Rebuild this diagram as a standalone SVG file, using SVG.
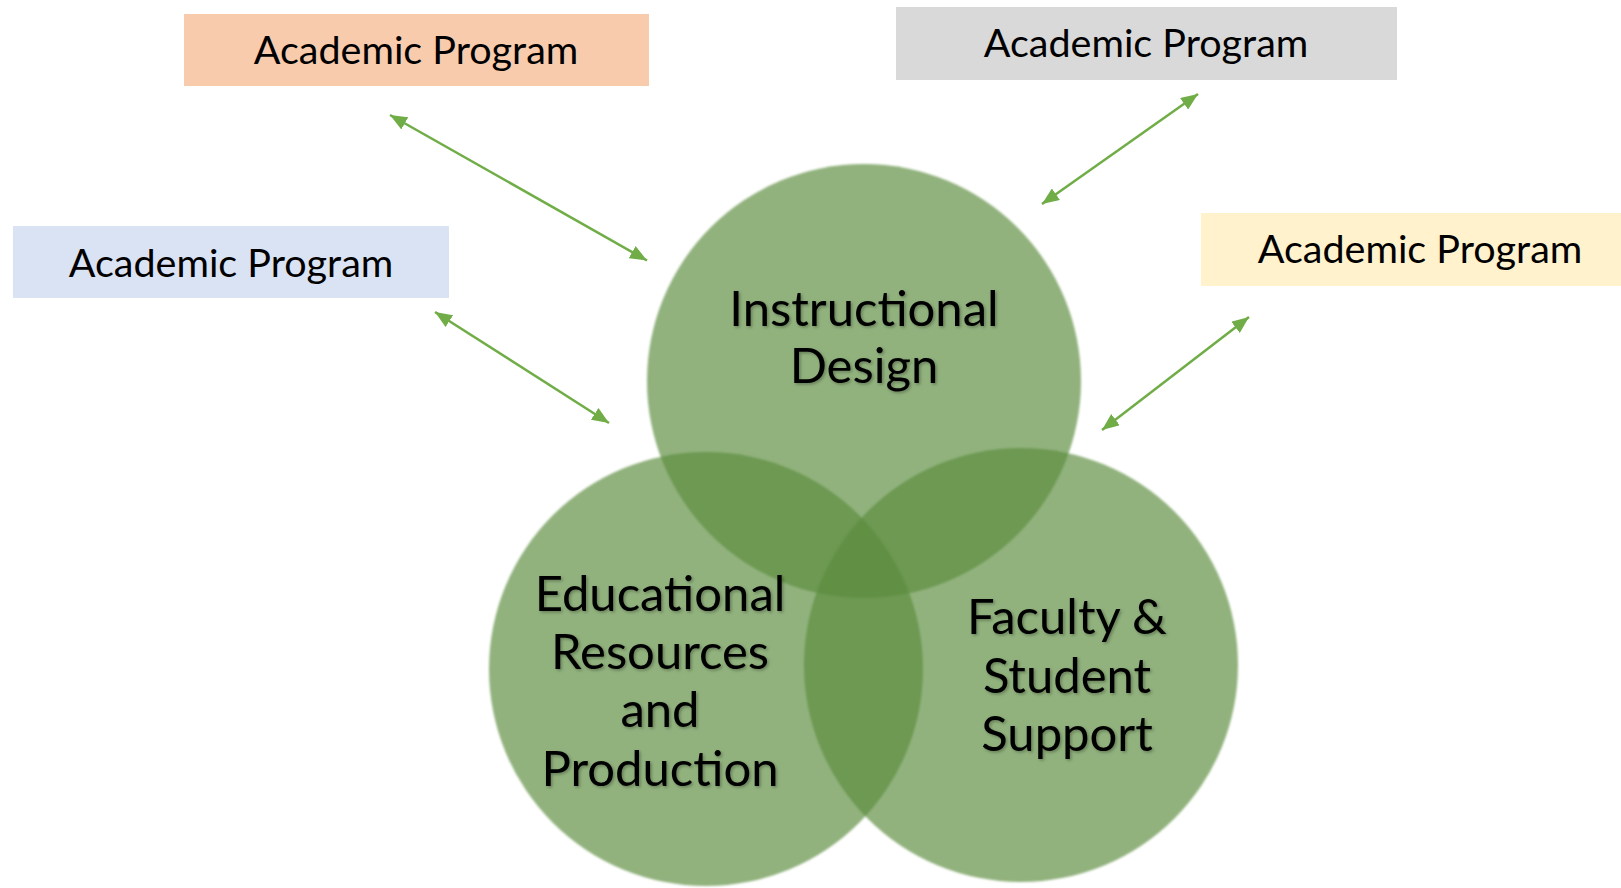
<svg xmlns="http://www.w3.org/2000/svg" width="1621" height="888" viewBox="0 0 1621 888">
  <style>
    .box-text { font-family: Lato, "Open Sans", "Liberation Sans", sans-serif; font-size: 39.5px; fill: #000; text-anchor: middle; }
    .venn-text { font-family: Lato, "Open Sans", "Liberation Sans", sans-serif; font-size: 49px; fill: #000; text-anchor: middle; filter: url(#tshadow); }
    .venn { fill: #5B8C3D; fill-opacity: 0.67; filter: url(#soft); }
    .conn { stroke: #70AD47; stroke-width: 2.5; fill: none; marker-start: url(#ah); marker-end: url(#ah); }
  </style>
  <defs>
    <marker id="ah" markerUnits="userSpaceOnUse" markerWidth="17" markerHeight="14" refX="17" refY="7" orient="auto-start-reverse" viewBox="0 0 17 14">
      <path d="M0,0 L17,7 L0,14 z" fill="#70AD47"/>
    </marker>
    <filter id="soft" x="-5%" y="-5%" width="110%" height="110%">
      <feGaussianBlur stdDeviation="1.2"/>
    </filter>
    <filter id="tshadow" x="-10%" y="-20%" width="120%" height="140%">
      <feDropShadow dx="1.5" dy="1.5" stdDeviation="1.5" flood-color="#000" flood-opacity="0.3"/>
    </filter>
  </defs>
  <rect width="1621" height="888" fill="#FFFFFF"/>

  <g id="venn-circles">
    <circle id="c-instructional" class="venn" cx="864" cy="381" r="217"/>
    <circle id="c-educational" class="venn" cx="706" cy="669" r="217"/>
    <circle id="c-faculty" class="venn" cx="1021" cy="665" r="217"/>
  </g>

  <g id="node-instructional">
    <text class="venn-text" x="864" y="326">Instructional</text>
    <text class="venn-text" x="864" y="383">Design</text>
  </g>
  <g id="node-educational">
    <text class="venn-text" x="660" y="611">Educational</text>
    <text class="venn-text" x="660" y="669">Resources</text>
    <text class="venn-text" x="660" y="727">and</text>
    <text class="venn-text" x="660" y="786">Production</text>
  </g>
  <g id="node-faculty">
    <text class="venn-text" x="1067" y="634">Faculty &amp;</text>
    <text class="venn-text" x="1067" y="693">Student</text>
    <text class="venn-text" x="1067" y="751">Support</text>
  </g>

  <g id="program-orange">
    <rect x="184" y="14" width="465" height="72" fill="#F8CBAD"/>
    <text class="box-text" x="416" y="64">Academic Program</text>
  </g>
  <g id="program-gray">
    <rect x="896" y="7" width="501" height="73" fill="#D9D9D9"/>
    <text class="box-text" x="1146" y="57">Academic Program</text>
  </g>
  <g id="program-blue">
    <rect x="13" y="226" width="436" height="72" fill="#DAE3F3"/>
    <text class="box-text" x="231" y="277">Academic Program</text>
  </g>
  <g id="program-yellow">
    <rect x="1201" y="213" width="420" height="73" fill="#FFF2CC"/>
    <text class="box-text" x="1420" y="263">Academic Program</text>
  </g>

  <g id="connectors">
    <line class="conn" x1="390" y1="115" x2="647" y2="260.5"/>
    <line class="conn" x1="1198" y1="94" x2="1042" y2="204"/>
    <line class="conn" x1="435" y1="312" x2="609" y2="423"/>
    <line class="conn" x1="1249" y1="317" x2="1102" y2="430"/>
  </g>
</svg>
